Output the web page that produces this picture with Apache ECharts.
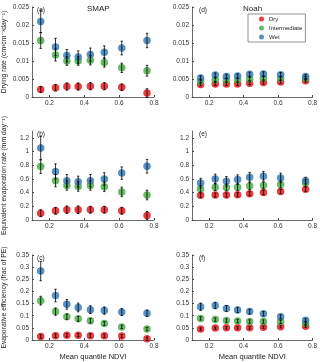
<!DOCTYPE html>
<html>
<head>
<meta charset="utf-8">
<script src="https://cdn.jsdelivr.net/npm/echarts@6/dist/echarts.min.js"></script>
<style>
  html, body { margin: 0; padding: 0; background: #fff; }
  #main { width: 320px; height: 362px; }
</style>
</head>
<body>
<div id="main"></div>
<script>
// mean quantile NDVI bins (shared x values)
const ndvi = [0.15, 0.235, 0.30, 0.365, 0.435, 0.515, 0.615, 0.76];
const groups = ["Dry", "Intermediate", "Wet"];
const colors = ["#e41a1c", "#4daf4a", "#377eb8"];

// (a) SMAP drying rate
const smapDryingDry = [0.0021, 0.0026, 0.0029, 0.0029, 0.0030, 0.0030, 0.0027, 0.0011];
const smapDryingDryErr = [0.0008, 0.0009, 0.0010, 0.0010, 0.0010, 0.0010, 0.0009, 0.0012];
const smapDryingMid = [0.0157, 0.0117, 0.0100, 0.0100, 0.0102, 0.0096, 0.0081, 0.0073];
const smapDryingMidErr = [0.0022, 0.0017, 0.0012, 0.0012, 0.0013, 0.0013, 0.0013, 0.0015];
const smapDryingWet = [0.0210, 0.0139, 0.0115, 0.0111, 0.0118, 0.0124, 0.0136, 0.0157];
const smapDryingWetErr = [0.0031, 0.0024, 0.0017, 0.0017, 0.0018, 0.0018, 0.0019, 0.0020];

// (d) Noah drying rate
const noahDryingDry = [0.0035, 0.0036, 0.0036, 0.0036, 0.0038, 0.0040, 0.0042, 0.0045];
const noahDryingDryErr = [0.0004, 0.0004, 0.0004, 0.0004, 0.0004, 0.0004, 0.0004, 0.0004];
const noahDryingMid = [0.0044, 0.0048, 0.0047, 0.0047, 0.0050, 0.0052, 0.0052, 0.0052];
const noahDryingMidErr = [0.0005, 0.0005, 0.0005, 0.0005, 0.0005, 0.0005, 0.0005, 0.0005];
const noahDryingWet = [0.0053, 0.0061, 0.0057, 0.0058, 0.0063, 0.0064, 0.0062, 0.0057];
const noahDryingWetErr = [0.0006, 0.0006, 0.0006, 0.0006, 0.0006, 0.0006, 0.0006, 0.0006];

// (b) SMAP equivalent evaporation rate
const smapEvapDry = [0.10, 0.135, 0.15, 0.15, 0.15, 0.15, 0.135, 0.065];
const smapEvapDryErr = [0.05, 0.05, 0.055, 0.055, 0.05, 0.05, 0.05, 0.06];
const smapEvapMid = [0.78, 0.575, 0.505, 0.49, 0.505, 0.485, 0.41, 0.365];
const smapEvapMidErr = [0.10, 0.09, 0.07, 0.07, 0.07, 0.07, 0.07, 0.07];
const smapEvapWet = [1.05, 0.71, 0.575, 0.56, 0.575, 0.60, 0.685, 0.785];
const smapEvapWetErr = [0.17, 0.11, 0.09, 0.08, 0.09, 0.09, 0.09, 0.10];

// (e) Noah equivalent evaporation rate
const noahEvapDry = [0.36, 0.365, 0.365, 0.37, 0.385, 0.40, 0.415, 0.45];
const noahEvapDryErr = [0.03, 0.03, 0.03, 0.03, 0.03, 0.03, 0.03, 0.03];
const noahEvapMid = [0.455, 0.48, 0.475, 0.48, 0.495, 0.505, 0.52, 0.54];
const noahEvapMidErr = [0.05, 0.05, 0.05, 0.05, 0.05, 0.05, 0.05, 0.05];
const noahEvapWet = [0.54, 0.60, 0.565, 0.59, 0.625, 0.64, 0.615, 0.575];
const noahEvapWetErr = [0.07, 0.07, 0.07, 0.07, 0.07, 0.07, 0.07, 0.05];

// (c) SMAP evaporative efficiency
const smapEffDry = [0.0145, 0.018, 0.02, 0.02, 0.018, 0.017, 0.016, 0.005];
const smapEffDryErr = [0.007, 0.007, 0.007, 0.007, 0.007, 0.007, 0.007, 0.007];
const smapEffMid = [0.162, 0.117, 0.096, 0.087, 0.079, 0.068, 0.054, 0.045];
const smapEffMidErr = [0.018, 0.015, 0.011, 0.010, 0.009, 0.008, 0.007, 0.007];
const smapEffWet = [0.284, 0.183, 0.147, 0.134, 0.125, 0.121, 0.115, 0.11];
const smapEffWetErr = [0.040, 0.026, 0.020, 0.018, 0.016, 0.015, 0.014, 0.013];

// (f) Noah evaporative efficiency
const noahEffDry = [0.045, 0.049, 0.05, 0.05, 0.05, 0.053, 0.055, 0.057];
const noahEffDryErr = [0.005, 0.005, 0.005, 0.005, 0.005, 0.005, 0.005, 0.005];
const noahEffMid = [0.089, 0.084, 0.080, 0.078, 0.076, 0.076, 0.075, 0.068];
const noahEffMidErr = [0.007, 0.007, 0.007, 0.007, 0.007, 0.007, 0.007, 0.007];
const noahEffWet = [0.137, 0.142, 0.130, 0.124, 0.117, 0.108, 0.096, 0.081];
const noahEffWetErr = [0.015, 0.013, 0.012, 0.011, 0.010, 0.009, 0.008, 0.007];

const xTicks = [0.2, 0.4, 0.6, 0.8];
const yTicksDrying = [0, 0.005, 0.01, 0.015, 0.02, 0.025];
const yTicksEvap = [0, 0.2, 0.4, 0.6, 0.8, 1, 1.2];
const yTicksEff = [0, 0.05, 0.1, 0.15, 0.2, 0.25, 0.3, 0.35];

const panels = [
  { label: "(a)", left: 30, top: 7, height: 90, max: 0.025, ticks: yTicksDrying,
    name: "Drying rate (cm³cm⁻³day⁻¹)",
    data: [[smapDryingDry, smapDryingDryErr], [smapDryingMid, smapDryingMidErr], [smapDryingWet, smapDryingWetErr]] },
  { label: "(b)", left: 30, top: 131, height: 89, max: 1.3, ticks: yTicksEvap,
    name: "Equivalent evaporation rate (mm day⁻¹)",
    data: [[smapEvapDry, smapEvapDryErr], [smapEvapMid, smapEvapMidErr], [smapEvapWet, smapEvapWetErr]] },
  { label: "(c)", left: 30, top: 255, height: 89, max: 0.35, ticks: yTicksEff,
    name: "Evaporative efficiency (frac of PE)", xname: true,
    data: [[smapEffDry, smapEffDryErr], [smapEffMid, smapEffMidErr], [smapEffWet, smapEffWetErr]] },
  { label: "(d)", left: 192, top: 7, height: 90, max: 0.025, ticks: yTicksDrying,
    data: [[noahDryingDry, noahDryingDryErr], [noahDryingMid, noahDryingMidErr], [noahDryingWet, noahDryingWetErr]] },
  { label: "(e)", left: 192, top: 131, height: 89, max: 1.3, ticks: yTicksEvap,
    data: [[noahEvapDry, noahEvapDryErr], [noahEvapMid, noahEvapMidErr], [noahEvapWet, noahEvapWetErr]] },
  { label: "(f)", left: 192, top: 255, height: 89, max: 0.35, ticks: yTicksEff, xname: true,
    data: [[noahEffDry, noahEffDryErr], [noahEffMid, noahEffMidErr], [noahEffWet, noahEffWetErr]] },
];

const font = "Liberation Sans, Arial, DejaVu Sans, sans-serif";
const axisColor = "#444";

function errRender(params, api) {
  const x = api.value(0);
  const lo = api.coord([x, api.value(1)]);
  const hi = api.coord([x, api.value(2)]);
  const w = 1.2;
  const st = { stroke: "#000", lineWidth: 0.8 };
  return {
    type: "group",
    children: [
      { type: "line", shape: { x1: lo[0], y1: lo[1], x2: hi[0], y2: hi[1] }, style: st },
      { type: "line", shape: { x1: lo[0] - w, y1: lo[1], x2: lo[0] + w, y2: lo[1] }, style: st },
      { type: "line", shape: { x1: hi[0] - w, y1: hi[1], x2: hi[0] + w, y2: hi[1] }, style: st },
    ],
  };
}

let grid = [], xAxis = [], yAxis = [], series = [], titles = [];

titles.push({ text: "SMAP", left: 82, top: 0, textStyle: { fontSize: 8, fontWeight: "normal", color: "#222", fontFamily: font } });
titles.push({ text: "Noah", left: 238, top: 0, textStyle: { fontSize: 8, fontWeight: "normal", color: "#222", fontFamily: font } });

panels.forEach(function (p, k) {
  const width = p.left === 30 ? 124 : 122;
  grid.push({ left: p.left, top: p.top, width: width, height: p.height });
  titles.push({ text: p.label, left: p.left + 2, top: p.top - 5,
    textStyle: { fontSize: 6.5, fontWeight: "normal", color: "#222", fontFamily: font } });
  xAxis.push({
    gridIndex: k, type: "value", min: 0.1, max: 0.8,
    name: p.xname ? "Mean quantile NDVI" : "", nameLocation: "middle", nameGap: 13,
    nameTextStyle: { fontSize: 7.5, color: "#222", fontFamily: font },
    axisLine: { lineStyle: { color: axisColor, width: 0.8 } },
    axisTick: { inside: true, length: 2, customValues: xTicks, lineStyle: { color: axisColor } },
    axisLabel: { customValues: xTicks, fontSize: 6.5, margin: 3, color: "#333", fontFamily: font },
    splitLine: { show: false },
  });
  yAxis.push({
    gridIndex: k, type: "value", min: 0, max: p.max,
    name: p.name || "", nameLocation: "middle", nameGap: 24,
    nameTextStyle: { fontSize: 6.8, color: "#222", fontFamily: font },
    axisLine: { show: true, lineStyle: { color: axisColor, width: 0.8 } },
    axisTick: { show: true, inside: true, length: 2, customValues: p.ticks, lineStyle: { color: axisColor } },
    axisLabel: { customValues: p.ticks, fontSize: 6.5, margin: 3, color: "#333", fontFamily: font },
    splitLine: { show: false },
  });
  p.data.forEach(function (d, g) {
    series.push({
      name: groups[g], type: "scatter", xAxisIndex: k, yAxisIndex: k,
      symbol: "circle", symbolSize: 7.5, z: 2 + g,
      itemStyle: { color: colors[g], opacity: 0.85 },
      data: ndvi.map(function (x, i) { return [x, d[0][i]]; }),
    });
  });
  p.data.forEach(function (d, g) {
    series.push({
      type: "custom", xAxisIndex: k, yAxisIndex: k, z: 10,
      renderItem: errRender, encode: { x: 0, y: [1, 2] },
      data: ndvi.map(function (x, i) { return [x, d[0][i] - d[1][i], d[0][i] + d[1][i]]; }),
    });
  });
});

const option = {
  animation: false,
  backgroundColor: "#fff",
  title: titles,
  legend: {
    data: groups, orient: "vertical", left: 248, top: 14,
    itemWidth: 5, itemHeight: 5, itemGap: 3, icon: "circle",
    padding: [2, 3, 2, 11],
    borderColor: "#777", borderWidth: 0.8,
    textStyle: { fontSize: 6, color: "#222", fontFamily: font },
  },
  grid: grid,
  xAxis: xAxis,
  yAxis: yAxis,
  series: series,
};

const chart = echarts.init(document.getElementById("main"));
chart.setOption(option);
</script>
</body>
</html>
